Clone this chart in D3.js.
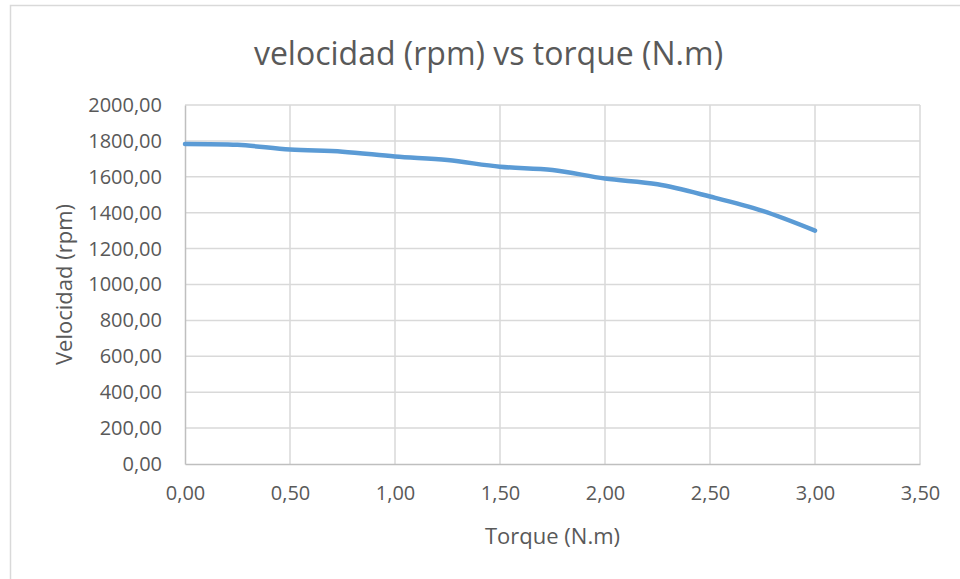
<!DOCTYPE html>
<html>
<head>
<meta charset="utf-8">
<script src="https://cdn.jsdelivr.net/npm/d3@7"></script>
<style>
  body { margin: 0; background: #fff; }
  svg { display: block; font-family: "Open Sans", sans-serif; }
</style>
</head>
<body>
<div id="chart"></div>
<script>
// data
var torque = [0.00, 0.25, 0.50, 0.75, 1.00, 1.25, 1.50, 1.75, 2.00, 2.25, 2.50, 2.75, 3.00];
var velocidad = [1783, 1778, 1752, 1740, 1713, 1693, 1656, 1638, 1590, 1558, 1490, 1410, 1300];
var xTicks = [0, 0.5, 1, 1.5, 2, 2.5, 3, 3.5];
var yTicks = [0, 200, 400, 600, 800, 1000, 1200, 1400, 1600, 1800, 2000];

var width = 960, height = 579;
var plotLeft = 185, plotRight = 920, plotTop = 105, plotBottom = 464;

var svg = d3.select("#chart").append("svg")
  .attr("width", width)
  .attr("height", height);

// chart frame
svg.append("rect")
  .attr("x", 10.5).attr("y", 5.5)
  .attr("width", 1000).attr("height", 700)
  .attr("fill", "#fff")
  .attr("stroke", "#d9d9d9")
  .attr("stroke-width", 1.5);

var x = d3.scaleLinear().domain([0, 3.5]).range([plotLeft, plotRight]);
var y = d3.scaleLinear().domain([0, 2000]).range([plotBottom, plotTop]);

var fmt = function(d) { return d3.format(".2f")(d).replace(".", ","); };

// gridlines
svg.append("g").selectAll("line")
  .data(yTicks.filter(function(d) { return d > 0; }))
  .enter().append("line")
  .attr("x1", plotLeft).attr("x2", plotRight)
  .attr("y1", function(d) { return y(d); })
  .attr("y2", function(d) { return y(d); })
  .attr("stroke", "#d9d9d9").attr("stroke-width", 1.5);

svg.append("g").selectAll("line")
  .data(xTicks.filter(function(d) { return d > 0; }))
  .enter().append("line")
  .attr("y1", plotTop).attr("y2", plotBottom)
  .attr("x1", function(d) { return x(d); })
  .attr("x2", function(d) { return x(d); })
  .attr("stroke", "#d9d9d9").attr("stroke-width", 1.5);

// axes
var xAxis = svg.append("g")
  .attr("transform", "translate(0," + plotBottom + ")")
  .call(d3.axisBottom(x).tickValues(xTicks).tickFormat(fmt).tickSize(0).tickPadding(22));
var yAxis = svg.append("g")
  .attr("transform", "translate(" + plotLeft + ",0)")
  .call(d3.axisLeft(y).tickValues(yTicks).tickFormat(fmt).tickSize(0).tickPadding(23));

[xAxis, yAxis].forEach(function(a) {
  a.select(".domain").attr("stroke", "#bfbfbf").attr("stroke-width", 1.5);
  a.selectAll("text")
    .attr("fill", "#595959")
    .style("font-size", "20px")
    .style("font-family", "'Open Sans', sans-serif");
});

// line
var line = d3.line()
  .x(function(d, i) { return x(torque[i]); })
  .y(function(d) { return y(d); })
  .curve(d3.curveCatmullRom.alpha(0.5));

svg.append("path")
  .datum(velocidad)
  .attr("d", line)
  .attr("fill", "none")
  .attr("stroke", "#5b9bd5")
  .attr("stroke-width", 4.5)
  .attr("stroke-linecap", "round");

// titles
svg.append("text")
  .attr("x", (plotLeft + plotRight) / 2 - 64).attr("y", 65)
  .attr("text-anchor", "middle")
  .attr("fill", "#595959")
  .style("font-size", "32px")
  .text("velocidad (rpm) vs torque (N.m)");

svg.append("text")
  .attr("x", (plotLeft + plotRight) / 2).attr("y", 544)
  .attr("text-anchor", "middle")
  .attr("fill", "#595959")
  .style("font-size", "22px")
  .text("Torque (N.m)");

svg.append("text")
  .attr("transform", "translate(72," + (plotTop + plotBottom) / 2 + ") rotate(-90)")
  .attr("text-anchor", "middle")
  .attr("fill", "#595959")
  .style("font-size", "22px")
  .text("Velocidad (rpm)");
</script>
</body>
</html>
